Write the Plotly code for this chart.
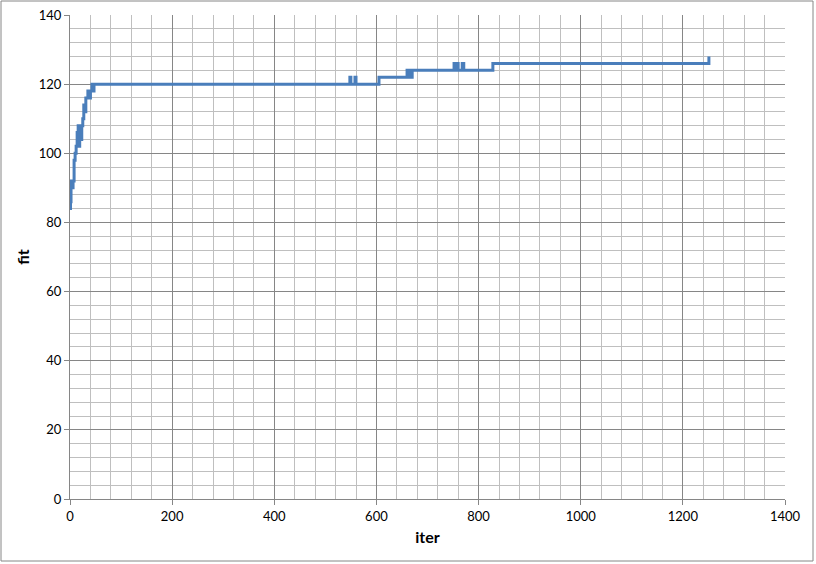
import plotly.graph_objects as go

# change points of the step series (iter, fit)
iters = [0, 1, 2, 4, 6, 8, 10, 12, 14, 16, 17, 19, 21, 23, 25, 27, 29, 31, 35, 38, 40, 43, 45, 47,
         548, 550, 558, 560, 605, 660, 662, 665, 667, 670,
         752, 755, 757, 760, 768, 771, 828, 1251]
fit = [84, 86, 92, 90, 92, 98, 100, 102, 106, 108, 102, 108, 104, 108, 110, 114, 112, 116, 118, 116, 118, 120, 118, 120,
       122, 120, 122, 120, 122, 124, 122, 124, 122, 124,
       126, 124, 126, 124, 126, 124, 126, 128]

x_ticks = [0, 200, 400, 600, 800, 1000, 1200, 1400]
y_ticks = [0, 20, 40, 60, 80, 100, 120, 140]

fig = go.Figure()
fig.add_trace(go.Scatter(x=iters, y=fit, mode="lines", line=dict(color="#4a7ebb", width=3, shape="hv"),
                         showlegend=False, hoverinfo="skip"))

font = dict(family="Lato, Open Sans, sans-serif", size=13, color="#000000")
fig.update_layout(
    width=816, height=564,
    margin=dict(l=70, r=31, t=15, b=65, autoexpand=False),
    paper_bgcolor="white", plot_bgcolor="white",
    font=font,
    xaxis=dict(range=[0, 1400], tickvals=x_ticks, ticks="outside", ticklen=5, tickcolor="#868686",
               showgrid=True, gridcolor="#868686", gridwidth=1, automargin=False,
               minor=dict(dtick=40, showgrid=True, gridcolor="#bfbfbf", gridwidth=1),
               showline=True, linecolor="#868686", linewidth=1, zeroline=False,
               title=dict(text="<b>iter</b>", standoff=9)),
    yaxis=dict(range=[0, 140], tickvals=y_ticks, ticks="outside", ticklen=5, tickcolor="#868686",
               showgrid=True, gridcolor="#868686", gridwidth=1, automargin=False,
               minor=dict(dtick=4, showgrid=True, gridcolor="#bfbfbf", gridwidth=1),
               showline=True, linecolor="#868686", linewidth=1, zeroline=False,
               title=dict(text="<b>fit</b>", standoff=5)),
    shapes=[dict(type="rect", xref="paper", yref="paper", x0=-69/715, x1=(715+28)/715,
                 y0=-62/484, y1=(484+14)/484, line=dict(color="#868686", width=1), fillcolor="rgba(0,0,0,0)",
                 layer="below")],
)
fig.write_html("out.html", config={"displayModeBar": False},
               post_script="document.body.style.margin='0px';document.body.style.padding='0px';")
